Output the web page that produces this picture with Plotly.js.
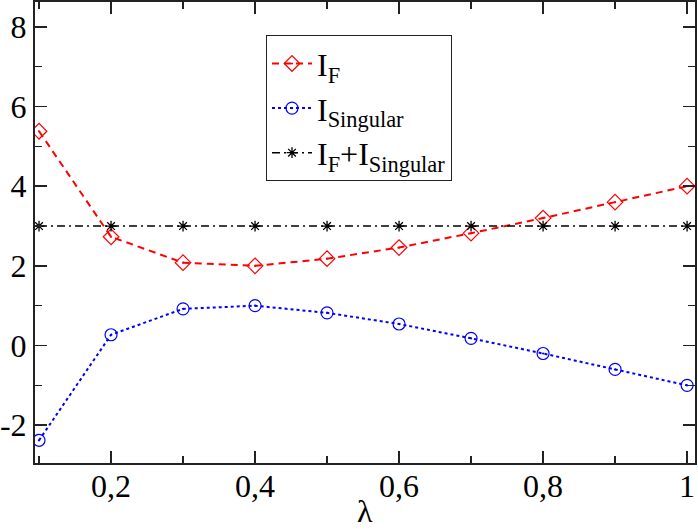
<!DOCTYPE html>
<html>
<head>
<meta charset="utf-8">
<script src="https://cdn.plot.ly/plotly-3.0.1.min.js"></script>
<style>
  html, body { margin: 0; padding: 0; background: #fff; }
  #chart { width: 698px; height: 531px; }
</style>
</head>
<body>
<div id="chart"></div>
<script>
// lambda values
const lambda = [0.1, 0.2, 0.3, 0.4, 0.5, 0.6, 0.7, 0.8, 0.9, 1.0];

// series
const iF = [5.38, 2.73, 2.08, 2.0, 2.18, 2.46, 2.82, 3.2, 3.6, 4.0];
const iSingular = [-2.38, 0.27, 0.92, 1.0, 0.82, 0.54, 0.18, -0.2, -0.6, -1.0];
const iSum = [3, 3, 3, 3, 3, 3, 3, 3, 3, 3];

// ticks
const xTickVals = [0.2, 0.4, 0.6, 0.8, 1.0];
const xTickText = ['0,2', '0,4', '0,6', '0,8', '1'];
const xMinorVals = [0.1, 0.3, 0.5, 0.7, 0.9];
const yTickVals = [-2, 0, 2, 4, 6, 8];
const yTickText = ['-2', '0', '2', '4', '6', '8'];
const yMinorVals = [-1, 1, 3, 5, 7];

const serif = "'Liberation Serif'";

const traces = [
  {
    x: lambda, y: iF,
    name: 'I<sub>F</sub>',
    mode: 'lines+markers',
    type: 'scatter',
    line: { color: '#ff0000', width: 2, dash: '7px,5px' },
    marker: { symbol: 'diamond-open-dot', size: 12, color: '#ff0000', line: { width: 1.2 } }
  },
  {
    x: lambda, y: iSingular,
    name: 'I<sub>Singular</sub>',
    mode: 'lines+markers',
    type: 'scatter',
    line: { color: '#0000ff', width: 2, dash: 'dot' },
    marker: { symbol: 'circle-open-dot', size: 12, color: '#0000ff', line: { width: 1.2 } }
  },
  {
    x: lambda, y: iSum,
    name: 'I<sub>F</sub>+I<sub>Singular</sub>',
    mode: 'lines+markers',
    type: 'scatter',
    line: { color: '#000000', width: 1.5, dash: '8px,4px,2px,4px' },
    marker: { symbol: 'asterisk-open', size: 9, color: '#000000', line: { width: 1.3, color: '#000000' } }
  }
];

const axisCommon = {
  showline: true,
  linecolor: '#222',
  linewidth: 2,
  mirror: 'ticks',
  ticks: 'inside',
  ticklen: 12,
  tickwidth: 1.5,
  tickcolor: '#222',
  showgrid: false,
  zeroline: false,
  tickfont: { family: serif, size: 32, color: '#000' }
};

const layout = {
  width: 698,
  height: 531,
  margin: { l: 35, r: 3, t: 2, b: 68 },
  paper_bgcolor: '#fff',
  plot_bgcolor: '#fff',
  font: { family: serif, size: 32, color: '#000' },
  showlegend: true,
  legend: {
    x: 0.35, y: 0.928,
    xanchor: 'left', yanchor: 'top',
    bgcolor: '#fff',
    bordercolor: '#222',
    borderwidth: 1,
    itemwidth: 40,
    font: { family: serif, size: 32, color: '#000' },
    tracegroupgap: 0
  },
  xaxis: Object.assign({}, axisCommon, {
    range: [0.0944, 1.011],
    tickmode: 'array',
    tickvals: xTickVals,
    ticktext: xTickText,
    ticklabelstandoff: -6,
    minor: { tickmode: 'array', tickvals: xMinorVals, ticklen: 7, tickwidth: 1.5, tickcolor: '#222', ticks: 'inside' }
  }),
  yaxis: Object.assign({}, axisCommon, {
    range: [-2.95, 8.625],
    tickmode: 'array',
    tickvals: yTickVals,
    ticktext: yTickText,
    minor: { tickmode: 'array', tickvals: yMinorVals, ticklen: 7, tickwidth: 1.5, tickcolor: '#222', ticks: 'inside' }
  }),
  annotations: [
    {
      text: 'λ', xref: 'paper', yref: 'paper', x: 0.5, y: 0, yshift: -67,
      xanchor: 'center', yanchor: 'bottom', showarrow: false, borderpad: 0,
      font: { family: serif, size: 32, color: '#000' }
    }
  ]
};

Plotly.newPlot('chart', traces, layout, { displayModeBar: false, staticPlot: true });
</script>
</body>
</html>
